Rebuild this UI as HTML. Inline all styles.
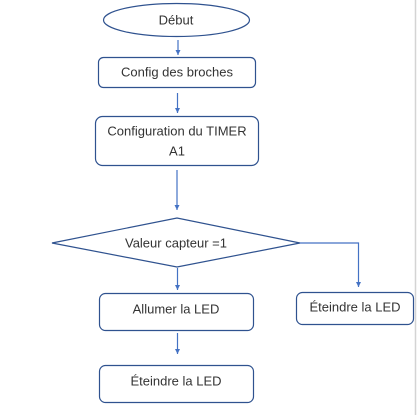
<!DOCTYPE html>
<html><head><meta charset="utf-8"><style>
html,body{margin:0;padding:0;background:#fff;width:418px;height:415px;overflow:hidden}
svg{display:block}
text{font-family:"Liberation Sans",sans-serif;font-size:13px;fill:#333;text-anchor:middle;dominant-baseline:central}
</style></head><body>
<svg width="418" height="415" viewBox="0 0 418 415" xmlns="http://www.w3.org/2000/svg">
<defs><marker id="a" markerWidth="6" markerHeight="6" refX="5" refY="3" orient="auto" markerUnits="userSpaceOnUse"><path d="M0,0.5 L5,3 L0,5.5z" fill="#4472C4"/></marker></defs>
<line x1="415.5" y1="0" x2="415.5" y2="415" stroke="#d4d4d4" stroke-width="1.5"/>
<g fill="#fff" stroke="#2F528F" stroke-width="1.2">
<ellipse cx="176.5" cy="20" rx="73" ry="16.5"/>
<rect x="98.5" y="57.5" width="157" height="30" rx="5"/>
<rect x="95.5" y="116.5" width="163" height="49" rx="7"/>
<polygon points="52,243 177,218 300,243 177,267"/>
<rect x="99.5" y="293.5" width="154" height="37" rx="6"/>
<rect x="296.5" y="292.5" width="117" height="32" rx="6"/>
<rect x="99.5" y="365.5" width="154" height="37" rx="6"/>
</g>
<g stroke="#4472C4" stroke-width="1.2" fill="none" marker-end="url(#a)">
<line x1="178" y1="40" x2="178" y2="55"/>
<line x1="177.5" y1="93" x2="177.5" y2="113"/>
<line x1="177" y1="170" x2="177" y2="210"/>
<line x1="177.5" y1="268" x2="177.5" y2="290"/>
<polyline points="300,243 358.5,243 358.5,287"/>
<line x1="177.5" y1="333" x2="177.5" y2="354"/>
</g>
<text x="176" y="20">Début</text>
<text x="177" y="72">Config des broches</text>
<text x="177" y="131">Configuration du TIMER</text>
<text x="177" y="151">A1</text>
<text x="176" y="243">Valeur capteur =1</text>
<text x="176" y="309">Allumer la LED</text>
<text x="355" y="307">Éteindre la LED</text>
<text x="176" y="381">Éteindre la LED</text>
</svg>
</body></html>
